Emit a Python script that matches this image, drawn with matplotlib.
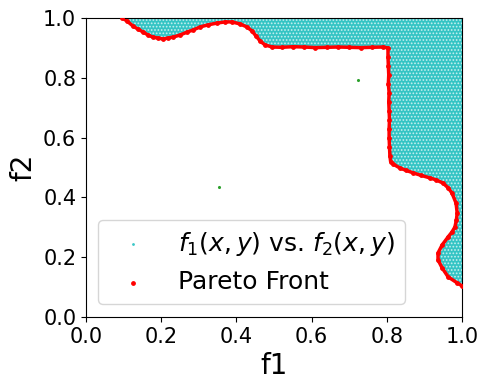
import numpy as np
import matplotlib
matplotlib.use('Agg')
import matplotlib.pyplot as plt

# pareto front (f1, f2)
front_f1 = [0.096, 0.109, 0.125, 0.138, 0.152, 0.165, 0.178, 0.191, 0.205, 0.218,
            0.231, 0.250, 0.269, 0.285, 0.303, 0.324, 0.348, 0.370, 0.388, 0.410,
            0.428, 0.441, 0.452, 0.463, 0.476, 0.495,
            0.52, 0.55, 0.58, 0.61, 0.64, 0.67, 0.70, 0.73, 0.76, 0.79, 0.803,
            0.803, 0.804, 0.805, 0.804, 0.806, 0.805, 0.806, 0.807, 0.806, 0.806,
            0.807, 0.808, 0.810,
            0.816, 0.835, 0.852, 0.870, 0.890, 0.915, 0.932, 0.949, 0.963, 0.973,
            0.984, 0.987, 0.985, 0.981, 0.973, 0.963, 0.947, 0.936, 0.936, 0.947,
            0.963, 0.987, 1.0]
front_f2 = [1.0, 0.990, 0.973, 0.963, 0.953, 0.943, 0.936, 0.933, 0.930, 0.933,
            0.936, 0.943, 0.953, 0.960, 0.970, 0.977, 0.983, 0.987, 0.987, 0.980,
            0.970, 0.957, 0.940, 0.923, 0.910, 0.903,
            0.902, 0.904, 0.903, 0.901, 0.902, 0.903, 0.902, 0.901, 0.902, 0.903, 0.900,
            0.87, 0.84, 0.81, 0.78, 0.75, 0.72, 0.69, 0.66, 0.63, 0.60,
            0.57, 0.54, 0.52,
            0.512, 0.498, 0.490, 0.482, 0.474, 0.465, 0.458, 0.448, 0.432, 0.415,
            0.381, 0.348, 0.325, 0.301, 0.284, 0.268, 0.241, 0.214, 0.191, 0.164,
            0.134, 0.114, 0.104]

# two stray points
odd_f1 = [0.354, 0.723]
odd_f2 = [0.435, 0.793]

fig = plt.figure(figsize=(4.9, 3.9), dpi=100)
ax = fig.add_axes([0.1755, 0.1872, 0.7675, 0.7666])

# dominated region (cloud of samples) above/right of the front
plt.rcParams['hatch.linewidth'] = 0.8
ax.fill(front_f1 + [1.0], front_f2 + [1.0], facecolor='#34c4c4', edgecolor='#c8f0f0',
        hatch='.....', lw=0, zorder=1)
ax.scatter([], [], s=1, c='#3cc8c8', label=r'$f_1(x, y)$ vs. $f_2(x, y)$')

ax.plot(front_f1, front_f2, c='red', lw=2.5, zorder=2)
ax.scatter(front_f1, front_f2, s=6, c='red', zorder=3, label='Pareto Front')
ax.scatter(odd_f1, odd_f2, s=1.5, c='tab:green', zorder=3)

ax.set_xlim(0, 1)
ax.set_ylim(0, 1)
ax.set_xlabel('f1', fontsize=20)
ax.set_ylabel('f2', fontsize=20)
ax.tick_params(labelsize=15)
ax.legend(loc='lower left', fontsize=18)

fig.savefig('out.png', dpi=100)
